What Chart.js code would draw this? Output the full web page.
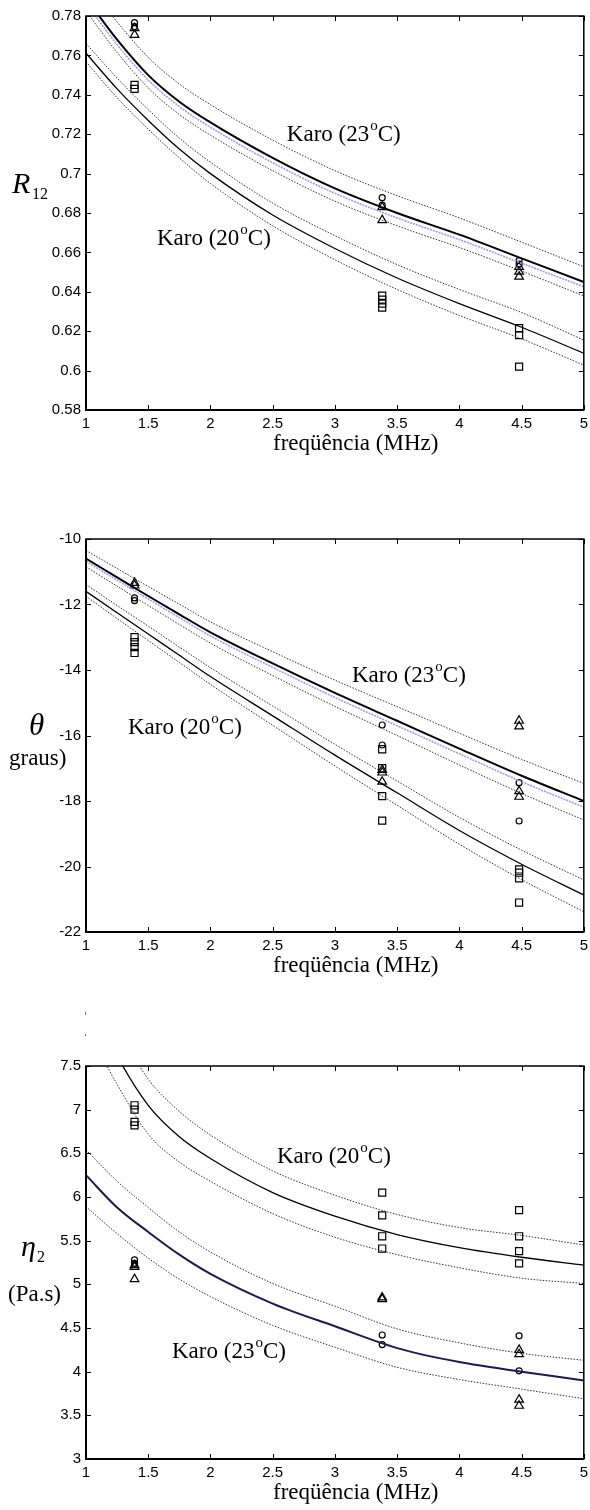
<!DOCTYPE html>
<html>
<head>
<meta charset="utf-8">
<script src="https://cdn.jsdelivr.net/npm/chart.js@4.4.0/dist/chart.umd.min.js"></script>
<style>
  body { margin: 0; background: #fff; width: 590px; height: 1510px; overflow: hidden; position: relative; }
  canvas { position: absolute; left: 0; }
</style>
</head>
<body>
<canvas id="cR12" width="590" height="480" style="top:0px;width:590px;height:480px"></canvas>
<canvas id="cTheta" width="590" height="500" style="top:480px;width:590px;height:500px"></canvas>
<canvas id="cEta" width="590" height="530" style="top:980px;width:590px;height:530px"></canvas>
<script>
"use strict";

// frequency grid of the model curves and of the measurements (MHz)
const freq = [1, 1.25, 1.5, 1.75, 2, 2.5, 3, 3.5, 4, 4.5, 5];
const freqMeas = [1.39, 3.38, 4.48];
const freqTicks = [1, 1.5, 2, 2.5, 3, 3.5, 4, 4.5, 5];

// R12
const r12Ticks = [0.58, 0.6, 0.62, 0.64, 0.66, 0.68, 0.7, 0.72, 0.74, 0.76, 0.78];
const r12Karo23 = [0.789, 0.768, 0.750, 0.7365, 0.726, 0.708, 0.6925, 0.680, 0.669, 0.657, 0.645];
const r12Karo23Hi = [0.798, 0.777, 0.759, 0.7455, 0.735, 0.717, 0.7015, 0.6888, 0.6775, 0.6652, 0.6527];
const r12Karo23Lo = [0.7825, 0.7615, 0.7435, 0.730, 0.7195, 0.7015, 0.686, 0.6735, 0.6625, 0.6505, 0.6379];
const r12Karo23Alt = [0.7865, 0.7655, 0.7475, 0.734, 0.7235, 0.7055, 0.690, 0.6775, 0.6665, 0.6545, 0.6426];
const r12Karo20 = [0.7611, 0.743, 0.727, 0.7125, 0.700, 0.679, 0.662, 0.647, 0.634, 0.622, 0.6088];
const r12Karo20Hi = [0.7661, 0.7485, 0.7325, 0.718, 0.7058, 0.685, 0.6685, 0.6538, 0.6412, 0.6295, 0.6155];
const r12Karo20Lo = [0.7568, 0.7385, 0.7225, 0.708, 0.695, 0.6735, 0.6563, 0.6412, 0.628, 0.6161, 0.6028];
const r12Squares = [[0.745, 0.743], [0.638, 0.636, 0.634, 0.632], [0.6215, 0.618, 0.602]];
const r12Circles = [[0.7766, 0.7746], [0.6878, 0.684], [0.6558, 0.654]];
const r12Triangles = [[0.7738, 0.7704], [0.683, 0.6764], [0.6527, 0.6502, 0.6477]];

// theta (graus)
const thTicks = [-22, -20, -18, -16, -14, -12, -10];
const thKaro23 = [-10.6, -11.17, -11.74, -12.3, -12.85, -13.8, -14.7, -15.55, -16.4, -17.23, -18.0];
const thKaro23Hi = [-10.35, -10.9, -11.45, -11.99, -12.53, -13.44, -14.31, -15.12, -15.93, -16.73, -17.46];
const thKaro23Lo = [-10.85, -11.44, -12.03, -12.61, -13.18, -14.17, -15.11, -16.0, -16.9, -17.77, -18.58];
const thKaro23Alt = [-10.68, -11.26, -11.83, -12.4, -12.96, -13.92, -14.84, -15.70, -16.56, -17.41, -18.19];
const thKaro20 = [-11.6, -12.25, -12.9, -13.55, -14.2, -15.4, -16.6, -17.75, -18.9, -19.93, -20.87];
const thKaro20Hi = [-11.39, -12.03, -12.66, -13.3, -13.93, -15.10, -16.27, -17.39, -18.50, -19.50, -20.41];
const thKaro20Lo = [-11.75, -12.43, -13.10, -13.77, -14.44, -15.69, -16.93, -18.13, -19.32, -20.40, -21.38];
const thSquares = [[-13.0, -13.15, -13.3, -13.48], [-16.42, -17.0, -17.85, -18.6], [-20.09, -20.19, -20.36, -21.1]];
const thCircles = [[-11.8, -11.88], [-15.68, -16.29], [-17.44, -18.61]];
const thTriangles = [[-11.34, -11.42], [-17.05, -17.13, -17.41], [-15.55, -15.72, -17.7, -17.87]];

// eta2 (Pa.s)
const etTicks = [3, 3.5, 4, 4.5, 5, 5.5, 6, 6.5, 7, 7.5];
const etKaro20 = [8.4, 7.62, 7.05, 6.69, 6.44, 6.05, 5.78, 5.57, 5.42, 5.31, 5.22];
const etKaro20Hi = [8.7, 7.95, 7.35, 6.98, 6.71, 6.30, 6.02, 5.80, 5.65, 5.56, 5.45];
const etKaro20Lo = [7.95, 7.29, 6.72, 6.40, 6.18, 5.81, 5.54, 5.34, 5.19, 5.07, 5.01];
const etKaro23 = [6.25, 5.88, 5.6, 5.34, 5.12, 4.78, 4.52, 4.27, 4.11, 4.0, 3.9];
const etKaro23Hi = [6.54, 6.18, 5.88, 5.6, 5.37, 5.01, 4.75, 4.49, 4.33, 4.21, 4.13];
const etKaro23Lo = [5.89, 5.58, 5.3, 5.06, 4.86, 4.53, 4.28, 4.05, 3.91, 3.8, 3.69];
const etSquares = [[7.05, 7.0, 6.86, 6.82], [6.05, 5.79, 5.55, 5.41], [5.85, 5.55, 5.38, 5.24]];
const etCircles = [[5.28, 5.24], [4.42, 4.31], [4.41, 4.01]];
const etTriangles = [[5.22, 5.2, 5.06], [4.85, 4.83], [4.25, 4.2, 3.68, 3.61]];

const SERIF = '"Liberation Serif", "Times New Roman", serif';
const SANS = '"Liberation Sans", Arial, sans-serif';

const dotted = {borderColor: '#333', borderWidth: 1, borderDash: [1.5, 1.5]};
const blueish = {borderColor: '#9c9cf2', borderWidth: 1.6, borderDash: [2, 1]};

function curve(values, style) {
	return Object.assign({
		showLine: true,
		pointRadius: 0,
		borderColor: '#000',
		borderWidth: 1,
		cubicInterpolationMode: 'monotone',
		data: freq.map((f, i) => ({x: f, y: values[i]}))
	}, style);
}

function markers(groups, style) {
	const data = [];
	groups.forEach((g, i) => g.forEach(v => data.push({x: freqMeas[i], y: v})));
	return Object.assign({
		showLine: false,
		data: data,
		borderColor: '#000',
		backgroundColor: 'rgba(0,0,0,0)',
		pointBorderWidth: 1.2
	}, style);
}

function karo(ctx, x, y, temp) {
	ctx.font = '23px ' + SERIF;
	ctx.fillText('Karo (' + temp, x, y);
	let w = ctx.measureText('Karo (' + temp).width;
	ctx.font = '15px ' + SERIF;
	ctx.fillText('o', x + w + 1, y - 11);
	w += ctx.measureText('o').width + 1;
	ctx.font = '23px ' + SERIF;
	ctx.fillText('C)', x + w, y);
}

function textPlugin(notes, drawYLabel) {
	return {
		id: 'texts',
		afterDraw(chart) {
			const {ctx, chartArea: a, scales: {x, y}} = chart;
			ctx.save();
			ctx.fillStyle = '#000';
			ctx.textBaseline = 'alphabetic';
			ctx.textAlign = 'left';
			notes.forEach(n => karo(ctx, x.getPixelForValue(n.x), y.getPixelForValue(n.y), n.temp));
			ctx.font = '23px ' + SERIF;
			ctx.fillText('freqüência (MHz)', a.left + 187, a.bottom + 40);
			drawYLabel(ctx, a);
			ctx.restore();
		}
	};
}

const framePlugin = {
	id: 'frame',
	afterDatasetsDraw(chart) {
		const {ctx, chartArea: a, scales: {x, y}} = chart;
		ctx.save();
		ctx.strokeStyle = '#000';
		ctx.lineWidth = 1;
		ctx.beginPath();
		x.ticks.forEach(t => {
			const px = Math.round(x.getPixelForValue(t.value)) + 0.5;
			ctx.moveTo(px, a.bottom); ctx.lineTo(px, a.bottom - 5);
			ctx.moveTo(px, a.top); ctx.lineTo(px, a.top + 5);
		});
		y.ticks.forEach(t => {
			const py = Math.round(y.getPixelForValue(t.value)) + 0.5;
			ctx.moveTo(a.left, py); ctx.lineTo(a.left + 5, py);
			ctx.moveTo(a.right, py); ctx.lineTo(a.right - 5, py);
		});
		ctx.stroke();
		ctx.lineWidth = 1.5;
		ctx.strokeRect(a.left, a.top, a.right - a.left, a.bottom - a.top);
		ctx.lineWidth = 2;
		ctx.beginPath();
		ctx.moveTo(a.left, a.top); ctx.lineTo(a.left, a.bottom); ctx.lineTo(a.right, a.bottom);
		ctx.stroke();
		ctx.restore();
	}
};

// plain number labels: 1, 1.5, 0.7, -22 ...
const plainLabel = v => String(+Number(v).toFixed(4));

function makeChart(id, setup) {
	const tickFont = {family: SANS, size: 15};
	new Chart(document.getElementById(id).getContext('2d'), {
		type: 'scatter',
		data: {datasets: setup.datasets},
		options: {
			responsive: false,
			animation: false,
			events: [],
			layout: {padding: {left: 0, right: 6, top: setup.padTop, bottom: setup.padBottom}},
			plugins: {legend: {display: false}, tooltip: {enabled: false}},
			scales: {
				x: {
					type: 'linear', position: 'bottom', min: 1, max: 5,
					afterBuildTicks: s => { s.ticks = freqTicks.map(v => ({value: v})); },
					afterFit: s => { s.height = 44; s.paddingLeft = 0; s.paddingRight = 0; },
					ticks: {color: '#000', font: tickFont, padding: 5, maxRotation: 0, autoSkip: false, callback: plainLabel},
					grid: {display: false, drawTicks: false},
					border: {display: false}
				},
				y: {
					type: 'linear', position: 'left', min: setup.yTicks[0], max: setup.yTicks[setup.yTicks.length - 1],
					afterBuildTicks: s => { s.ticks = setup.yTicks.map(v => ({value: v})); },
					afterFit: s => { s.width = 86; s.paddingTop = 0; s.paddingBottom = 0; },
					ticks: {color: '#000', font: tickFont, padding: 5, autoSkip: false, callback: plainLabel},
					grid: {display: false, drawTicks: false},
					border: {display: false}
				}
			}
		},
		plugins: [framePlugin, textPlugin(setup.notes, setup.yLabel)]
	});
}

makeChart('cR12', {
	padTop: 16, padBottom: 26, yTicks: r12Ticks,
	datasets: [
		curve(r12Karo23Hi, dotted), curve(r12Karo23Lo, dotted),
		curve(r12Karo20Hi, dotted), curve(r12Karo20Lo, dotted),
		curve(r12Karo23Alt, blueish),
		curve(r12Karo23, {borderWidth: 2}), curve(r12Karo20, {borderWidth: 1.3}),
		markers(r12Squares, {pointStyle: 'rect', pointRadius: 5}),
		markers(r12Circles, {pointStyle: 'circle', pointRadius: 3}),
		markers(r12Triangles, {pointStyle: 'triangle', pointRadius: 5})
	],
	notes: [{x: 2.614, y: 0.7165, temp: '23'}, {x: 1.57, y: 0.6638, temp: '20'}],
	yLabel: (ctx, a) => {
		ctx.font = 'italic 30px ' + SERIF;
		ctx.fillText('R', 12, a.top + 177);
		ctx.font = '16px ' + SERIF;
		ctx.fillText('12', 32, a.top + 183);
	}
});

makeChart('cTheta', {
	padTop: 59, padBottom: 4, yTicks: thTicks,
	datasets: [
		curve(thKaro23Hi, dotted), curve(thKaro23Lo, dotted),
		curve(thKaro20Hi, dotted), curve(thKaro20Lo, dotted),
		curve(thKaro23Alt, blueish),
		curve(thKaro23, {borderWidth: 2}), curve(thKaro20, {borderWidth: 1.3}),
		markers(thSquares, {pointStyle: 'rect', pointRadius: 5}),
		markers(thCircles, {pointStyle: 'circle', pointRadius: 3}),
		markers(thTriangles, {pointStyle: 'triangle', pointRadius: 5})
	],
	notes: [{x: 3.137, y: -14.37, temp: '23'}, {x: 1.337, y: -15.95, temp: '20'}],
	yLabel: (ctx, a) => {
		ctx.font = 'italic 31px ' + SERIF;
		ctx.fillText('θ', 29, a.top + 196);
		ctx.font = '23px ' + SERIF;
		ctx.fillText('graus)', 9, a.top + 226);
	}
});

makeChart('cEta', {
	padTop: 86, padBottom: 7, yTicks: etTicks,
	datasets: [
		curve(etKaro20Hi, dotted), curve(etKaro20Lo, dotted),
		curve(etKaro23Hi, dotted), curve(etKaro23Lo, dotted),
		curve(etKaro23, {borderWidth: 2, borderColor: '#1b1b4d'}), curve(etKaro20, {borderWidth: 1.3}),
		markers(etSquares, {pointStyle: 'rect', pointRadius: 5}),
		markers(etCircles, {pointStyle: 'circle', pointRadius: 3}),
		markers(etTriangles, {pointStyle: 'triangle', pointRadius: 5})
	],
	notes: [{x: 2.534, y: 6.389, temp: '20'}, {x: 1.691, y: 4.156, temp: '23'}],
	yLabel: (ctx, a) => {
		ctx.font = 'italic 30px ' + SERIF;
		ctx.fillText('η', 21, a.top + 190);
		ctx.font = '16px ' + SERIF;
		ctx.fillText('2', 37, a.top + 196);
		ctx.font = '23px ' + SERIF;
		ctx.fillText('(Pa.s)', 8, a.top + 235);
		// two stray marks above the axes
		ctx.fillStyle = '#777';
		ctx.fillRect(a.left - 1, a.top - 54, 1, 3);
		ctx.fillRect(a.left - 1, a.top - 32, 1, 2);
	}
});
</script>
</body>
</html>
